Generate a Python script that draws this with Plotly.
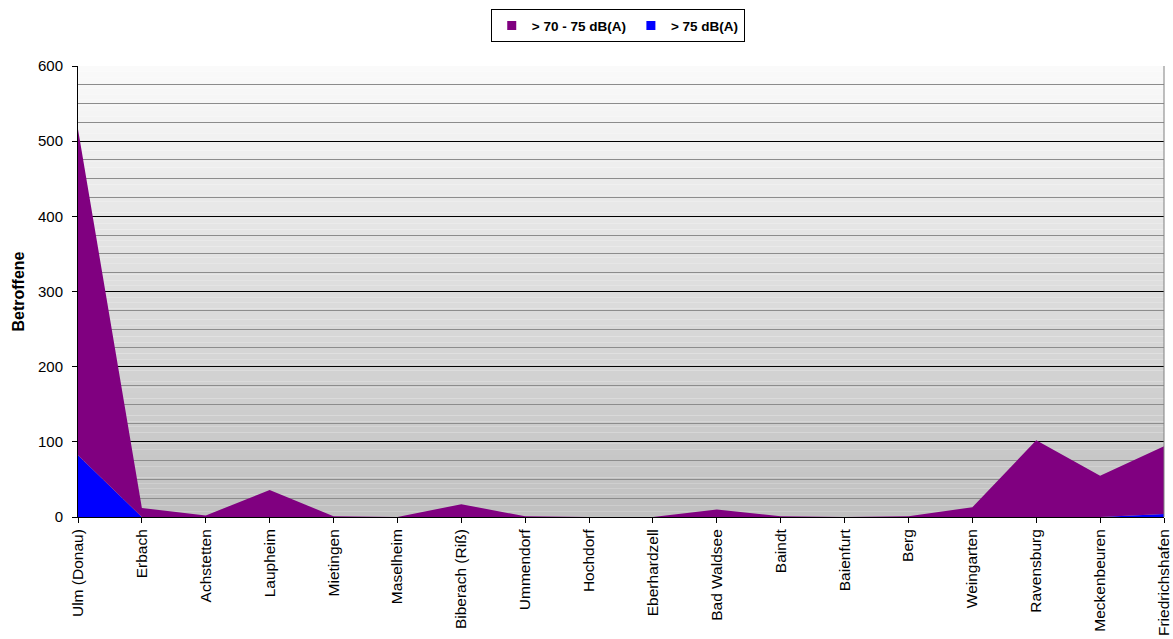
import plotly.graph_objects as go

# Municipalities along the route
orte = [
    "Ulm (Donau)", "Erbach", "Achstetten", "Laupheim", "Mietingen", "Maselheim",
    "Biberach (Riß)", "Ummendorf", "Hochdorf", "Eberhardzell", "Bad Waldsee",
    "Baindt", "Baienfurt", "Berg", "Weingarten", "Ravensburg", "Meckenbeuren",
    "Friedrichshafen",
]

# Affected residents per noise band
ueber_75 = [82, 0, 0, 0, 0, 0, 0, 0, 0, 0, 0, 0, 0, 0, 0, 0, 0, 4]
von_70_bis_75 = [434, 12, 2, 36, 1, 0, 17, 1, 0, 0, 10, 1, 0, 1, 13, 102, 55, 90]

y_ticks = [0, 100, 200, 300, 400, 500, 600]

FONT = "Arial, Liberation Sans, sans-serif"
LILA = "#800080"
BLAU = "#0000ff"

fig = go.Figure()
# stacked areas (not in the legend themselves)
fig.add_trace(go.Scatter(
    x=orte, y=ueber_75, name="> 75 dB(A)", mode="none",
    stackgroup="laerm", fillcolor=BLAU, showlegend=False,
))
fig.add_trace(go.Scatter(
    x=orte, y=von_70_bis_75, name="> 70 - 75 dB(A)", mode="none",
    stackgroup="laerm", fillcolor=LILA, showlegend=False,
))
# square legend keys for the two bands
for name, color in [("> 70 - 75 dB(A)", LILA), ("> 75 dB(A)", BLAU)]:
    fig.add_trace(go.Scatter(
        x=[None], y=[None], name=name, mode="markers",
        marker=dict(symbol="square", size=9, color=color),
    ))

# Vertical grey gradient behind the plot area
n_bands = 80
top_rgb, bottom_rgb = (250, 250, 250), (192, 192, 192)
shapes = []
for i in range(n_bands):
    t = i / (n_bands - 1)
    c = [round(top_rgb[k] + (bottom_rgb[k] - top_rgb[k]) * t) for k in range(3)]
    shapes.append(dict(
        type="rect", xref="paper", yref="paper", layer="below",
        x0=0, x1=1, y0=1 - (i + 1) / n_bands, y1=1 - i / n_bands,
        fillcolor=f"rgb({c[0]},{c[1]},{c[2]})", line=dict(width=0),
    ))
# right border of the plot area
shapes.append(dict(
    type="line", xref="paper", yref="paper", layer="above",
    x0=1, x1=1, y0=0, y1=1, line=dict(color="#808080", width=1),
))

fig.update_layout(
    width=1173, height=639,
    margin=dict(l=78, r=9, t=66, b=122),
    paper_bgcolor="white",
    plot_bgcolor="rgba(0,0,0,0)",
    font=dict(family=FONT, size=14, color="black"),
    shapes=shapes,
    showlegend=True,
    legend=dict(
        orientation="h", traceorder="normal",
        x=0.497, xanchor="center", y=1.126, yanchor="top",
        bgcolor="white", bordercolor="black", borderwidth=1,
        font=dict(family=FONT, size=13.5, color="black", weight="bold"),
        itemwidth=30, tracegroupgap=0,
    ),
    xaxis=dict(
        type="category", range=[0, len(orte) - 1], automargin=False,
        tickangle=-90, ticks="outside", ticklen=5, tickcolor="black",
        showline=True, linecolor="black", linewidth=1,
        showgrid=False, zeroline=False,
        tickfont=dict(family=FONT, size=15.5, color="black"),
    ),
    yaxis=dict(
        range=[0, 600], tickvals=y_ticks, automargin=False,
        ticks="outside", ticklen=5, tickcolor="black", ticklabelstandoff=6,
        showline=True, linecolor="black", linewidth=1,
        showgrid=True, gridcolor="black", gridwidth=1, zeroline=False,
        minor=dict(dtick=25, showgrid=True, gridcolor="#8c8c8c", gridwidth=1, ticks=""),
        tickfont=dict(family=FONT, size=15, color="black"),
        title=dict(text="Betroffene", font=dict(family=FONT, size=16, color="black", weight="bold"),
                   standoff=9),
    ),
)

fig.write_html("out.html")
